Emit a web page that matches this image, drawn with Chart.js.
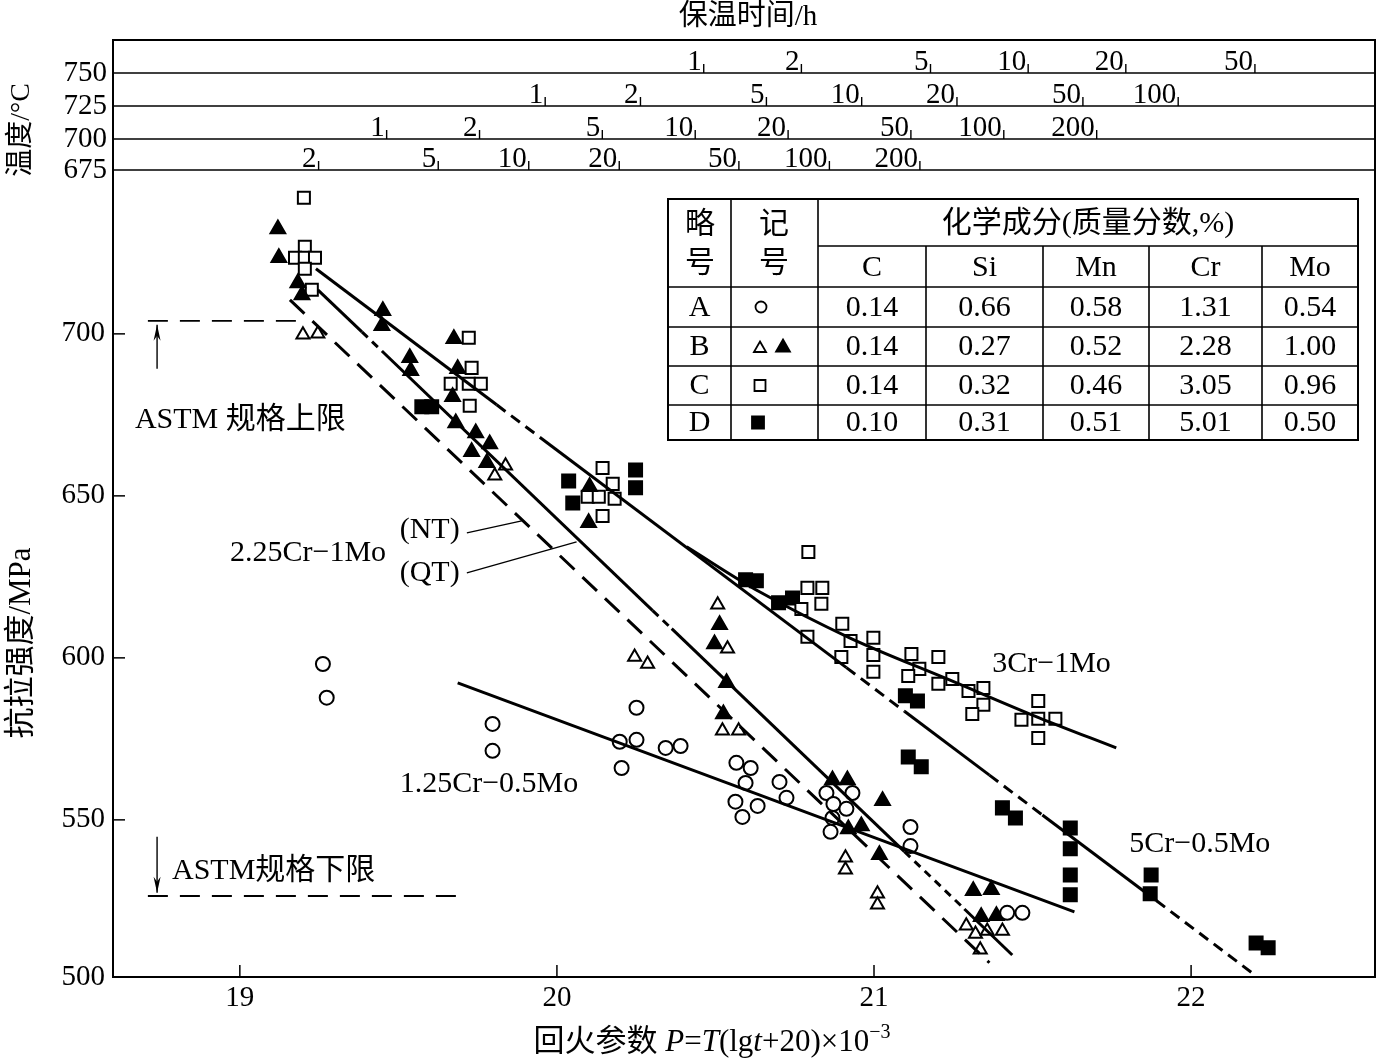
<!DOCTYPE html>
<html><head><meta charset="utf-8">
<script src="https://cdn.jsdelivr.net/npm/chart.js@4.4.1/dist/chart.umd.min.js"></script>
<style>html,body{margin:0;padding:0;background:#fff}#wrap{width:1389px;height:1059px}</style>
</head><body><div id="wrap"><canvas id="c" width="1389" height="1059"></canvas></div>
<script>
// ---------- axes ----------
const xTickValues = [19, 20, 21, 22];
const yTickValues = [500, 550, 600, 650, 700];
const xLimits = [18.6, 22.58];
const yLimits = [501.5, 790.7];

// ---------- top scales: temperature rows and holding times (h) ----------
const topTemps = [750, 725, 700, 675];
const topTimes = [
  [1, 2, 5, 10, 20, 50],
  [1, 2, 5, 10, 20, 50, 100],
  [1, 2, 5, 10, 20, 50, 100, 200],
  [2, 5, 10, 20, 50, 100, 200]
];

// ---------- A (open circle) ----------
const aP = [19.262,19.274,19.797,19.797,20.251,20.198,20.251,20.343,20.390,20.204,20.566,20.611,20.595,20.702,20.724,20.563,20.633,20.585,20.850,20.932,20.872,20.913,20.869,20.863,21.115,21.115,21.420,21.468];
const aMPa = [598.1,587.7,579.6,571.3,584.6,574.1,574.7,572.2,572.8,566.0,567.6,566.0,561.4,561.7,556.8,555.6,554.3,550.9,558.3,558.3,554.9,553.4,550.6,546.3,547.8,541.9,521.3,521.3];
// ---------- B (open triangle) ----------
const bOpenP = [19.199,19.246,19.838,19.804,20.507,20.538,20.245,20.286,20.522,20.573,20.910,20.910,21.011,21.011,21.291,21.320,21.357,21.405,21.335];
const bOpenMPa = [699.7,700.0,659.3,656.2,616.4,602.8,600.3,598.1,577.5,577.5,538.3,534.6,527.2,523.8,517.3,514.8,515.7,515.7,509.9];
// ---------- B (filled triangle) ----------
const bFillP = [19.120,19.123,19.183,19.196,19.451,19.448,19.536,19.539,19.675,19.687,19.671,19.681,19.744,19.788,19.731,19.779,20.103,20.100,20.513,20.497,20.535,20.525,20.869,20.916,21.027,20.919,20.960,21.017,21.313,21.370,21.338,21.386];
const bFillMPa = [732.4,723.5,715.7,712.0,707.1,702.5,692.6,688.6,698.5,689.2,680.6,672.5,669.4,666.0,663.6,660.2,652.8,641.7,610.2,604.3,592.3,582.7,562.3,562.3,555.9,547.2,548.1,539.2,528.1,528.4,520.1,520.4];
// ---------- C (open square) ----------
const cP = [19.202,19.205,19.174,19.205,19.237,19.205,19.227,19.722,19.731,19.665,19.722,19.760,19.725,20.144,20.176,20.097,20.132,20.182,20.144,20.793,20.790,20.837,20.834,20.771,20.790,20.900,20.926,20.998,20.998,20.897,20.998,21.118,21.143,21.203,21.108,21.203,21.247,21.298,21.345,21.345,21.310,21.518,21.465,21.518,21.572,21.518];
const cMPa = [742.0,726.9,723.5,723.5,723.5,720.1,713.6,698.8,689.5,684.6,684.6,684.6,677.8,658.6,653.7,649.7,649.7,649.1,643.8,632.7,621.6,621.6,616.7,615.1,606.5,610.5,605.2,606.2,600.9,600.3,595.7,601.2,596.6,600.3,594.4,592.0,593.5,589.8,590.7,585.5,582.7,586.7,580.9,581.2,581.2,575.3];
// ---------- D (filled square) ----------
const dP = [19.574,19.605,20.037,20.050,20.248,20.248,20.595,20.629,20.699,20.743,21.099,21.137,21.108,21.149,21.405,21.446,21.619,21.619,21.619,21.619,21.874,21.871,22.205,22.243];
const dMPa = [677.5,677.5,654.6,647.8,658.0,652.5,624.1,623.8,617.0,618.5,588.3,586.7,569.4,566.4,553.7,550.6,547.5,541.1,533.0,526.9,533.0,527.2,512.0,510.5];

// ---------- trend lines ----------
const cr3P = [20.409,20.639,20.923,21.238,21.521,21.764];
const cr3MPa = [634.3,620.4,606.2,593.2,581.5,572.2];
const cr5P = [19.240,19.810,19.946,20.913,21.096,21.364,21.531,21.890,22.192];
const cr5MPa = [720.1,678.1,668.1,597.0,583.5,563.8,551.5,525.1,502.8];
const cr5Seg = ['solid','dash','solid','dash','solid','dash','solid','dash'];
const ntP = [19.246,19.385,19.448,20.302,20.362,21.096,21.285,21.436];
const ntMPa = [713.6,700.6,694.7,614.6,609.0,540.2,522.5,508.3];
const ntSeg = ['solid','dash','solid','dash','solid','dash','solid'];
const qtP = [19.158,21.364];
const qtMPa = [710.5,505.9];
const cr125P = [19.687,21.632];
const cr125MPa = [592.3,521.6];
const astmUpperP = [18.71,19.177];
const astmUpperMPa = [704,704];
const astmLowerP = [18.71,19.687];
const astmLowerMPa = [526.5,526.5];

// ---------- table ----------
const tableCodes = ['A','B','C','D'];
const tableElements = ['C','Si','Mn','Cr','Mo'];
const tableComp = [
  [0.14,0.66,0.58,1.31,0.54],
  [0.14,0.27,0.52,2.28,1.00],
  [0.14,0.32,0.46,3.05,0.96],
  [0.10,0.31,0.51,5.01,0.50]
];

// ---------- annotations ----------
const noteTexts = ['ASTM 规格上限','ASTM规格下限','2.25Cr−1Mo','(NT)','(QT)','3Cr−1Mo','1.25Cr−0.5Mo','5Cr−0.5Mo'];
const noteP = [18.669,18.786,18.969,19.504,19.504,21.373,19.504,21.805];
const noteMPa = [673.5,534.3,632.4,639.5,626.2,598.1,561.1,542.6];
const leaderP0 = [19.716,19.716], leaderM0 = [638.6,626.2];
const leaderP1 = [19.889,20.062], leaderM1 = [642.3,635.8];
const arrowP = [18.739,18.739], arrowFrom = [689.2,544.8], arrowTo = [702.8,527.5];

// ===================================================
const FAM = "'Liberation Serif','Noto Sans CJK SC',serif";
const pts = (xs, ys) => xs.map((v, i) => ({x: v, y: ys[i]}));
const segDash = (styles, pat) => ctx => styles[ctx.p0DataIndex] === 'dash' ? pat : [];

function markerSet(xs, ys, style, r, fill) {
  return {type:'scatter', data: pts(xs, ys), pointStyle: style, pointRadius: r, pointHoverRadius: r,
    pointBackgroundColor: fill ? '#000' : '#fff', pointBorderColor: '#000', pointBorderWidth: 2};
}
function lineSet(xs, ys, opts) {
  return Object.assign({type:'line', data: pts(xs, ys), showLine: true, borderColor:'#000', borderWidth: 3,
    pointRadius: 0, fill: false, tension: 0, borderCapStyle:'butt'}, opts || {});
}

function shape(ctx, kind, x, y, s, filled) {
  ctx.beginPath();
  if (kind === 'circle') ctx.arc(x, y, s, 0, Math.PI * 2);
  else if (kind === 'rect') ctx.rect(x - s, y - s, 2 * s, 2 * s);
  else { ctx.moveTo(x, y - s); ctx.lineTo(x + s * 0.866, y + s * 0.5); ctx.lineTo(x - s * 0.866, y + s * 0.5); ctx.closePath(); }
  ctx.fillStyle = filled ? '#000' : '#fff';
  ctx.fill();
  ctx.lineWidth = 1.8; ctx.strokeStyle = '#000'; ctx.stroke();
}

const decor = {
  id: 'decor',
  afterDraw(chart) {
    const {ctx, chartArea: {left, right, top, bottom}, scales: {x, y}} = chart;
    const X = v => x.getPixelForValue(v), Y = v => y.getPixelForValue(v);
    const seg = (x0, y0, x1, y1, w) => { ctx.lineWidth = w; ctx.beginPath(); ctx.moveTo(x0, y0); ctx.lineTo(x1, y1); ctx.stroke(); };
    ctx.save();
    ctx.strokeStyle = '#000'; ctx.fillStyle = '#000'; ctx.setLineDash([]);

    // frame
    ctx.lineWidth = 2; ctx.strokeRect(left, top, right - left, bottom - top);
    // inward ticks
    xTickValues.forEach(v => seg(X(v), bottom, X(v), bottom - 12, 1.5));
    yTickValues.forEach(v => { if (v > y.min) seg(left, Y(v), left + 12, Y(v), 1.5); });

    // top temperature/time rows
    const rowOff = [33, 66, 99, 130];
    topTemps.forEach((temp, i) => {
      const ly = top + rowOff[i];
      seg(left, ly, right, ly, 1.6);
      ctx.font = '29px ' + FAM; ctx.textAlign = 'right'; ctx.textBaseline = 'middle';
      ctx.fillText(String(temp), left - 6, ly);
      ctx.textBaseline = 'alphabetic';
      topTimes[i].forEach(t => {
        const P = (temp + 273.15) * (Math.log10(t) + 20) / 1000;
        const px = X(P);
        seg(px, ly, px, ly - 9, 1.4);
        ctx.fillText(String(t), px - 2, ly - 3);
      });
    });
    ctx.font = '29px ' + FAM; ctx.textAlign = 'center'; ctx.textBaseline = 'middle';
    ctx.fillText('保温时间/h', 748, 17);

    // rotated titles
    ctx.save(); ctx.translate(22, 130); ctx.rotate(-Math.PI / 2);
    ctx.font = '28px ' + FAM; ctx.fillText('温度/°C', 0, 0); ctx.restore();
    ctx.save(); ctx.translate(22, 643); ctx.rotate(-Math.PI / 2);
    ctx.font = '31px ' + FAM; ctx.fillText('抗拉强度/MPa', 0, 0); ctx.restore();

    // x title (rich)
    const parts = [
      {t:'回火参数 ', f:'31px ' + FAM}, {t:'P', f:'italic 31px ' + FAM}, {t:'=', f:'31px ' + FAM},
      {t:'T', f:'italic 31px ' + FAM}, {t:'(lg', f:'31px ' + FAM}, {t:'t', f:'italic 31px ' + FAM},
      {t:'+20)×10', f:'31px ' + FAM}, {t:'−3', f:'20px ' + FAM, dy:-13}
    ];
    let tot = 0;
    parts.forEach(p => { ctx.font = p.f; p.w = ctx.measureText(p.t).width; tot += p.w; });
    let cx = 712 - tot / 2;
    ctx.textAlign = 'left'; ctx.textBaseline = 'alphabetic';
    parts.forEach(p => { ctx.font = p.f; ctx.fillText(p.t, cx, 1051 + (p.dy || 0)); cx += p.w; });

    // annotation labels
    ctx.font = '30px ' + FAM; ctx.textAlign = 'left'; ctx.textBaseline = 'middle';
    noteTexts.forEach((t, i) => ctx.fillText(t, X(noteP[i]), Y(noteMPa[i])));
    leaderP0.forEach((p, i) => seg(X(p), Y(leaderM0[i]), X(leaderP1[i]), Y(leaderM1[i]), 1.3));
    arrowP.forEach((p, i) => {
      const ax = X(p), y0 = Y(arrowFrom[i]), y1 = Y(arrowTo[i]);
      seg(ax, y0, ax, y1, 1.4);
      const d = y1 < y0 ? 1 : -1;
      ctx.beginPath(); ctx.moveTo(ax, y1); ctx.lineTo(ax - 3.5, y1 + d * 16); ctx.lineTo(ax, y1 + d * 11);
      ctx.lineTo(ax + 3.5, y1 + d * 16); ctx.closePath(); ctx.fill();
    });

    // composition table
    const TX = [668, 731, 818, 926, 1043, 1149, 1262, 1358];
    const TY = [199, 246, 287, 327, 366, 405, 440];
    ctx.fillStyle = '#fff'; ctx.fillRect(TX[0], TY[0], TX[7] - TX[0], TY[6] - TY[0]);
    ctx.fillStyle = '#000';
    ctx.lineWidth = 2; ctx.strokeRect(TX[0], TY[0], TX[7] - TX[0], TY[6] - TY[0]);
    [TX[1], TX[2]].forEach(v => seg(v, TY[0], v, TY[6], 1.6));
    TX.slice(3, 7).forEach(v => seg(v, TY[1], v, TY[6], 1.6));
    seg(TX[2], TY[1], TX[7], TY[1], 1.6);
    TY.slice(2, 6).forEach(v => seg(TX[0], v, TX[7], v, 1.6));
    ctx.textAlign = 'center'; ctx.textBaseline = 'middle'; ctx.font = '30px ' + FAM;
    ctx.fillText('略', 700, 225); ctx.fillText('号', 700, 264);
    ctx.fillText('记', 774, 225); ctx.fillText('号', 774, 264);
    ctx.fillText('化学成分(质量分数,%)', (TX[2] + TX[7]) / 2, 224);
    tableElements.forEach((e, j) => ctx.fillText(e, (TX[j + 2] + TX[j + 3]) / 2, 268));
    tableCodes.forEach((c, i) => {
      const cy = (TY[i + 2] + TY[i + 3]) / 2 + 1;
      ctx.fillStyle = '#000';
      ctx.fillText(c, (TX[0] + TX[1]) / 2, cy);
      tableComp[i].forEach((v, j) => { ctx.fillStyle = '#000'; ctx.fillText(v.toFixed(2), (TX[j + 2] + TX[j + 3]) / 2, cy); });
    });
    const rc = i => (TY[i + 2] + TY[i + 3]) / 2;
    shape(ctx, 'circle', 761, rc(0), 5.5, false);
    shape(ctx, 'tri', 760, rc(1) + 2, 7, false);
    shape(ctx, 'tri', 783, rc(1) + 1, 8, true);
    shape(ctx, 'rect', 760, rc(2), 5.5, false);
    shape(ctx, 'rect', 758, rc(3), 6, true);
    ctx.restore();
  }
};

new Chart(document.getElementById('c'), {
  type: 'scatter',
  data: {
    datasets: [
      lineSet(cr3P, cr3MPa, {tension: 0.35}),
      lineSet(cr5P, cr5MPa, {segment: {borderDash: segDash(cr5Seg, [11, 7])}}),
      lineSet(ntP, ntMPa, {segment: {borderDash: segDash(ntSeg, [8, 6])}}),
      lineSet(qtP, qtMPa, {borderDash: [20, 11]}),
      lineSet(cr125P, cr125MPa),
      lineSet(astmUpperP, astmUpperMPa, {borderDash: [20, 12], borderWidth: 1.8}),
      lineSet(astmLowerP, astmLowerMPa, {borderDash: [20, 12], borderWidth: 1.8}),
      markerSet(aP, aMPa, 'circle', 7, false),
      markerSet(bOpenP, bOpenMPa, 'triangle', 7.5, false),
      markerSet(bFillP, bFillMPa, 'triangle', 8.5, true),
      markerSet(cP, cMPa, 'rect', 8.5, false),
      markerSet(dP, dMPa, 'rect', 9.2, true)
    ]
  },
  options: {
    responsive: false, animation: false, devicePixelRatio: 1,
    layout: {padding: {top: 40, right: 14, left: 0, bottom: 0}},
    plugins: {legend: {display: false}, tooltip: {enabled: false}},
    scales: {
      x: {
        type: 'linear', min: xLimits[0], max: xLimits[1],
        afterBuildTicks: s => { s.ticks = xTickValues.map(v => ({value: v})); },
        afterFit: s => { s.height = 82; },
        ticks: {callback: (v, i) => String(xTickValues[i]), color: '#000', font: {family: FAM, size: 29}, padding: 4, maxRotation: 0, autoSkip: false},
        grid: {display: false, drawTicks: false}, border: {display: false}
      },
      y: {
        type: 'linear', min: yLimits[0], max: yLimits[1],
        afterBuildTicks: s => { s.ticks = yTickValues.map(v => ({value: Math.max(v, yLimits[0])})); },
        afterFit: s => { s.width = 113; },
        ticks: {callback: (v, i) => String(yTickValues[i]), color: '#000', font: {family: FAM, size: 29}, padding: 8, autoSkip: false},
        grid: {display: false, drawTicks: false}, border: {display: false}
      }
    }
  },
  plugins: [decor]
});
</script></body></html>
